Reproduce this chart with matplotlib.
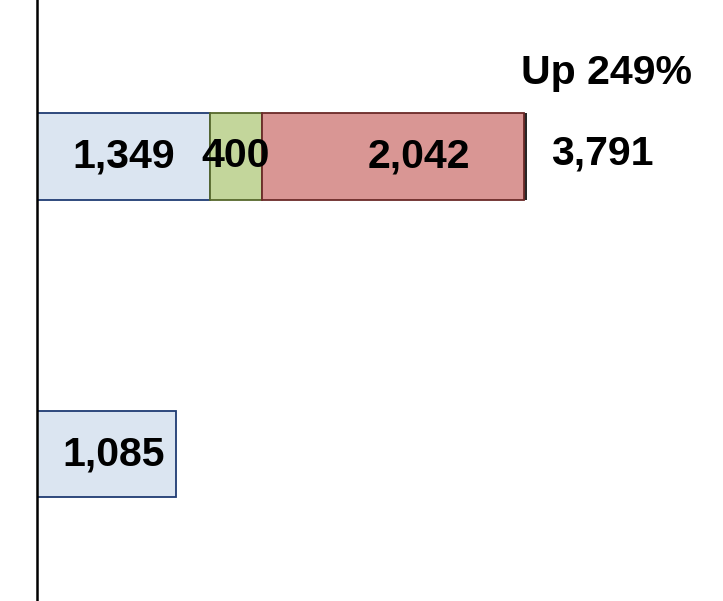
import matplotlib.pyplot as plt
import matplotlib.patheffects as pe

plt.rcParams['font.family'] = ['Liberation Sans', 'DejaVu Sans']

# data
rows = [0, 1]                       # 0 = bottom bar, 1 = top bar
base = [1085, 1349]
added = [0, 400]
new = [0, 2042]
total_top = 3791
growth_text = 'Up 249%'

fill_blue, edge_blue = '#dbe5f1', '#1f3b73'
fill_green, edge_green = '#c3d69b', '#56682c'
fill_red, edge_red = '#d99694', '#6b2a28'

fig = plt.figure(figsize=(7.23, 6.01), dpi=100)
ax = fig.add_axes([37 / 723, 0, 686 / 723, 1])

h = 0.292
ax.barh(rows, base, height=h, color=fill_blue, edgecolor=edge_blue, linewidth=1.3)
ax.barh(rows[1], added[1], left=base[1], height=h, color=fill_green,
        edgecolor=edge_green, linewidth=1.3)
left3 = base[1] + added[1]
red = ax.barh(rows[1], new[1], left=left3, height=h, color=fill_red,
              edgecolor=edge_red, linewidth=1.3)
# dark shadow on the right edge of the red block, like the original
for p in red:
    p.set_path_effects([pe.SimplePatchShadow(offset=(2, 0), shadow_rgbFace='black',
                                             alpha=0.85), pe.Normal()])

ax.set_xlim(0, 5340)
ax.set_ylim(-0.494, 1.526)

fs = 29.5
# segment labels
ax.text(base[1] / 2, 1, f'{base[1]:,}', ha='center', va='center',
        fontsize=fs, fontweight='bold')
ax.text(base[1] + added[1] / 2, 1, f'{added[1]:,}', ha='center', va='center',
        fontsize=fs, fontweight='bold')
ax.text(left3 + new[1] / 2 + 200, 1, f'{new[1]:,}', ha='center', va='center',
        fontsize=fs, fontweight='bold')
ax.text(base[0] / 2 + 55, 0, f'{base[0]:,}', ha='center', va='center',
        fontsize=fs, fontweight='bold')

# total and growth
ax.text(total_top + 610, 1.01, f'{total_top:,}', ha='center', va='center',
        fontsize=fs, fontweight='bold')
ax.text(total_top + 640, 1.28, growth_text, ha='center', va='center',
        fontsize=fs, fontweight='bold')

for s in ['top', 'right', 'bottom']:
    ax.spines[s].set_visible(False)
ax.spines['left'].set_linewidth(1.8)
ax.set_xticks([])
ax.set_yticks([])

fig.savefig('out.png', dpi=100)
